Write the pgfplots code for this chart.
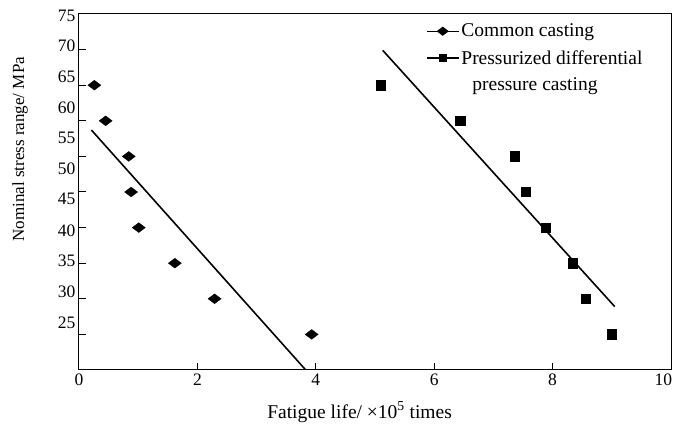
\documentclass[border=0pt]{standalone}
\usepackage{fontspec}
\setmainfont{Liberation Serif}
\usepackage{pgfplots}
\usepackage{pgfplotstable}
\pgfplotsset{compat=1.18}

% fatigue life (x10^5 times) vs nominal stress range (MPa)
\pgfplotstableread{
x     y
0.26  65
0.45  60
0.84  55
0.88  50
1.01  45
1.62  40
2.29  35
3.93  30
}\common
\pgfplotstableread{
x     y
5.10  65
6.44  60
7.36  55
7.55  50
7.88  45
8.34  40
8.56  35
9.00  30
}\pressurized
% fitted lines
\pgfplotstableread{
x     y
0.21  58.7
3.83  25.0
}\commonfit
\pgfplotstableread{
x     y
5.13  69.9
9.05  33.9
}\pressurizedfit

\begin{document}
\begin{tikzpicture}
\useasboundingbox (-79pt,-60pt) rectangle (596pt,370pt);
\begin{axis}[
    scale only axis,
    width=592pt, height=356pt,
    xmin=0, xmax=10, ymin=25, ymax=75,
    xtick={0,2,...,10},
    xticklabels={0,2,4,6,8,\makebox[0pt][r]{10\hspace{-1pt}}},
    ytick={30,35,...,70}, yticklabels={},
    extra y ticks={74.8,70.5,66.2,61.9,57.6,53.3,49.0,44.6,40.3,36.0,31.6},
    extra y tick labels={75,70,65,60,55,50,45,40,35,30,25},
    extra y tick style={major tick length=0pt},
    tick pos=left,
    tick align=inside,
    major tick length=7pt,
    tick style={black, line width=1pt},
    axis line style={black, line width=1pt},
    /pgf/number format/assume math mode=true,
    tick label style={font=\fontsize{17.5}{20}\selectfont},
    xlabel={Fatigue life/ ×10\textsuperscript{5} times},
    ylabel={Nominal stress range/ MPa},
    xlabel style={at={(axis description cs:0.474,-0.118)}, anchor=center,
        font=\fontsize{19.5}{23}\selectfont},
    ylabel style={at={(axis description cs:-0.0997,0.62)}, anchor=center,
        font=\fontsize{17}{20}\selectfont},
    legend style={draw=none, fill=none, at={(axis description cs:0.586,0.978)},
        anchor=north west, inner sep=0pt, row sep=8pt,
        font=\fontsize{19.5}{23}\selectfont, nodes={inner xsep=2pt}},
    legend cell align=left,
    legend image code/.code={\draw[mark repeat=2,mark phase=2,#1]
        plot coordinates {(0pt,0pt) (16pt,0pt) (32pt,0pt)};},
]
\addplot[only marks, mark=diamond*, mark size=6.5pt,
    mark options={rotate=90, fill=black, draw=black}, forget plot] table {\common};
\addplot[only marks, mark=square*, mark size=4.7pt,
    mark options={fill=black, draw=black}, forget plot] table {\pressurized};
\addplot[black, line width=1.6pt, forget plot] table {\commonfit};
\addplot[black, line width=1.6pt, forget plot] table {\pressurizedfit};

\addlegendimage{black, line width=1.3pt, mark=diamond*, mark size=5pt,
    mark options={rotate=90, fill=black}}
\addlegendentry{Common casting}
\addlegendimage{black, line width=1.3pt, mark=square*, mark size=3.6pt,
    mark options={fill=black}}
\addlegendentry{Pressurized differential}
\addlegendimage{empty legend}
\addlegendentry{\hspace{11pt}pressure casting}
\end{axis}
\end{tikzpicture}
\end{document}
